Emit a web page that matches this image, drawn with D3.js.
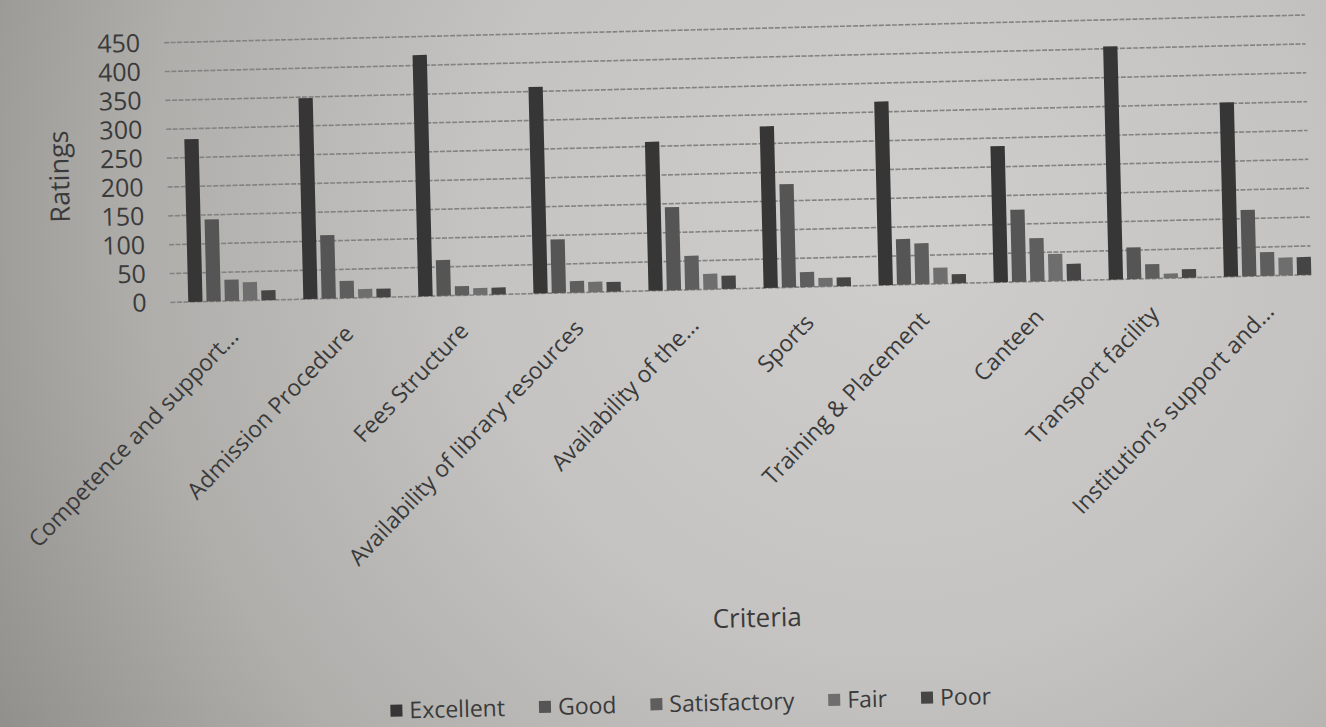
<!DOCTYPE html>
<html>
<head>
<meta charset="utf-8">
<script src="https://cdn.jsdelivr.net/npm/d3@7"></script>
<style>
  html, body { margin: 0; padding: 0; background: #b9b8b6; }
  svg { display: block; font-family: "Open Sans", sans-serif; }
</style>
</head>
<body>
<svg id="chart" width="1326" height="727"></svg>
<script>
// data
var categories = ["Competence and support...", "Admission Procedure", "Fees Structure",
  "Availability of library resources", "Availability of the...", "Sports",
  "Training & Placement", "Canteen", "Transport facility", "Institution\u2019s support and..."];
var series = ["Excellent", "Good", "Satisfactory", "Fair", "Poor"];
var excellent    = [282, 348, 418, 358, 258, 280, 318, 236, 404, 302];
var good         = [142, 110,  62,  93, 144, 179,  79, 125,  55, 115];
var satisfactory = [ 37,  30,  16,  20,  59,  26,  71,  75,  25,  41];
var fair         = [ 32,  15,  12,  18,  27,  15,  28,  47,   8,  31];
var poor         = [ 17,  15,  12,  17,  23,  15,  16,  29,  15,  31];
var yTicks = [0, 50, 100, 150, 200, 250, 300, 350, 400, 450];

var values = [excellent, good, satisfactory, fair, poor];
var colors = ["#363636", "#555555", "#5e5e5e", "#6e6e6e", "#454545"];

var svg = d3.select("#chart"),
    width = +svg.attr("width"),
    height = +svg.attr("height");

// paper background of the photo
var defs = svg.append("defs");
var grad = defs.append("radialGradient")
    .attr("id", "paper")
    .attr("gradientUnits", "userSpaceOnUse")
    .attr("cx", 900).attr("cy", 230).attr("r", 1080);
grad.append("stop").attr("offset", "0").attr("stop-color", "#cfcecd");
grad.append("stop").attr("offset", "0.4").attr("stop-color", "#c4c3c1");
grad.append("stop").attr("offset", "0.7").attr("stop-color", "#afaeab");
grad.append("stop").attr("offset", "1").attr("stop-color", "#8c8a87");
svg.append("rect").attr("width", width).attr("height", height).attr("fill", "url(#paper)");

// the page was photographed slightly tilted
var g = svg.append("g").attr("transform", "rotate(-1.39, 663, 360)");

var x0 = d3.scaleBand()
    .domain(categories)
    .range([176, 1327])
    .paddingInner(0.24)
    .paddingOuter(0.12);

var x1 = d3.scaleBand()
    .domain(series)
    .range([0, x0.bandwidth()])
    .paddingInner(0.22);

var y = d3.scaleLinear()
    .domain([0, 450])
    .range([290.5, 30.7]);

// gridlines
g.append("g")
  .selectAll("line")
  .data(yTicks)
  .enter().append("line")
    .attr("x1", 172)
    .attr("x2", 1313)
    .attr("y1", function(d) { return y(d); })
    .attr("y2", function(d) { return y(d); })
    .attr("stroke", "#838281")
    .attr("stroke-width", 1.6)
    .attr("stroke-dasharray", "5,1.5");

// y axis labels
var yAxis = g.append("g")
    .attr("transform", "translate(148,0)")
    .call(d3.axisLeft(y).tickValues(yTicks).tickSize(0).tickPadding(0));
yAxis.select(".domain").remove();
yAxis.selectAll("text")
    .attr("fill", "#3a3a3a")
    .style("font-family", "'Open Sans', sans-serif")
    .style("font-size", "25px");

// bars
var group = g.append("g")
  .selectAll("g")
  .data(categories)
  .enter().append("g")
    .attr("transform", function(d) { return "translate(" + x0(d) + ",0)"; });

group.selectAll("rect")
  .data(function(d, i) {
    return series.map(function(s, j) { return {key: s, idx: j, value: values[j][i]}; });
  })
  .enter().append("rect")
    .attr("x", function(d) { return x1(d.key); })
    .attr("y", function(d) { return y(d.value); })
    .attr("width", x1.bandwidth())
    .attr("height", function(d) { return y(0) - y(d.value); })
    .attr("fill", function(d) { return colors[d.idx]; });

// category labels
g.append("g")
  .selectAll("text")
  .data(categories)
  .enter().append("text")
    .attr("transform", function(d) {
      return "translate(" + (x0(d) + x0.bandwidth() / 2 + 7) + "," + (y(0) + 37) + ") rotate(-45)";
    })
    .attr("text-anchor", "end")
    .attr("fill", "#3a3a3a")
    .style("font-size", "23px")
    .text(function(d) { return d; });

// axis titles
g.append("text")
    .attr("transform", "translate(64,162) rotate(-90)")
    .attr("text-anchor", "middle")
    .attr("dy", "0.35em")
    .attr("fill", "#3a3a3a")
    .style("font-size", "27px")
    .text("Ratings");

g.append("text")
    .attr("x", 751)
    .attr("y", 620)
    .attr("text-anchor", "middle")
    .attr("dy", "0.35em")
    .attr("fill", "#3a3a3a")
    .style("font-size", "26px")
    .text("Criteria");

// legend
var legend = g.append("g");
var lx = 382;
series.forEach(function(s, j) {
  legend.append("rect")
      .attr("x", lx)
      .attr("y", 698)
      .attr("width", 12)
      .attr("height", 12)
      .attr("fill", colors[j]);
  var t = legend.append("text")
      .attr("x", lx + 19)
      .attr("y", 704)
      .attr("dy", "0.35em")
      .attr("fill", "#3a3a3a")
      .style("font-size", "23px")
      .text(s);
  lx = lx + 19 + t.node().getComputedTextLength() + 34;
});
</script>
</body>
</html>
